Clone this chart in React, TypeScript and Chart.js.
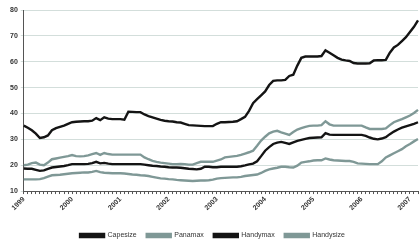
import React, { useEffect, useRef } from "react";
import { Chart, registerables } from "chart.js";

Chart.register(...registerables);

// Tick labels (one per January)
const yearLabels = ["1999", "2000", "2001", "2002", "2003", "2004", "2005", "2006", "2007"];

// Monthly categories Jan 1999 .. Mar 2007
const months: string[] = [];
for (let y = 1999; y <= 2007; y++) {
  for (let m = 1; m <= 12; m++) {
    if (y === 2007 && m > 3) break;
    months.push(`${y}-${String(m).padStart(2, "0")}`);
  }
}

const capesize = [
  35.3, 34.5, 33.5, 32.2, 30.5, 30.8, 31.5, 33.5, 34.3, 34.8, 35.3, 36.0,
  36.6, 36.8, 36.9, 37.0, 37.0, 37.2, 38.2, 37.4, 38.5, 38.0, 37.8, 37.8,
  37.8, 37.6, 40.7, 40.6, 40.5, 40.5, 39.6, 39.0, 38.5, 38.0, 37.5, 37.2,
  37.0, 36.9, 36.6, 36.5, 36.0, 35.5, 35.4, 35.3, 35.2, 35.1, 35.1, 35.1,
  36.0, 36.6, 36.6, 36.7, 36.8, 37.0, 37.8, 38.7, 41.0, 44.0, 45.5, 47.0,
  48.5, 51.0, 52.6, 52.8, 52.8, 53.0, 54.5, 55.0, 58.5, 61.5, 62.0, 62.0,
  62.0, 62.0, 62.2, 64.4, 63.5, 62.5, 61.5, 60.8, 60.5, 60.3, 59.5, 59.3,
  59.3, 59.3, 59.4, 60.5, 60.6, 60.6, 60.7, 63.5, 65.5, 66.5, 68.0, 69.5,
  71.5, 73.5, 76.0,
];

const panamax = [
  20.0, 20.2, 20.8, 21.0, 20.2, 20.0, 21.0, 22.3, 22.6, 22.9, 23.2, 23.5,
  23.9, 23.5, 23.4, 23.5, 23.8, 24.3, 24.7, 24.0, 24.7, 24.3, 24.1, 24.1,
  24.1, 24.1, 24.1, 24.1, 24.1, 24.1, 23.0, 22.3, 21.7, 21.3, 21.0, 20.8,
  20.6, 20.4, 20.4, 20.5, 20.4, 20.2, 20.2, 20.8, 21.3, 21.3, 21.3, 21.3,
  21.8, 22.2, 23.0, 23.2, 23.4, 23.6, 24.0, 24.5, 25.0, 25.6, 27.5, 29.5,
  31.0, 32.3, 33.0, 33.3, 32.7, 32.2, 31.7, 32.8, 33.8, 34.3, 34.8, 35.2,
  35.3, 35.3, 35.5, 37.0, 35.8, 35.3, 35.3, 35.3, 35.3, 35.3, 35.3, 35.3,
  35.3, 34.6, 34.0, 34.0, 34.0, 34.0, 34.2, 35.5, 36.6, 37.2, 37.8, 38.5,
  39.2, 40.2, 41.4,
];

const handymax = [
  18.7, 18.6, 18.6, 18.2, 17.8, 18.0, 18.6, 19.1, 19.3, 19.5, 19.7, 20.0,
  20.4, 20.4, 20.4, 20.4, 20.5, 20.8, 21.3, 20.7, 20.9, 20.6, 20.4, 20.4,
  20.4, 20.4, 20.4, 20.4, 20.4, 20.4, 20.2, 20.0, 19.8, 19.7, 19.5, 19.4,
  19.2, 19.1, 19.1, 19.0, 18.8, 18.6, 18.5, 18.4, 18.6, 19.4, 19.4, 19.2,
  19.2, 19.4, 19.4, 19.4, 19.4, 19.4, 19.6, 19.9, 20.3, 20.6, 21.5, 23.5,
  25.6, 27.0, 28.2, 28.7, 29.0, 28.6, 28.2, 28.8, 29.4, 29.8, 30.2, 30.5,
  30.6, 30.7, 30.8, 32.4, 31.8, 31.7, 31.7, 31.7, 31.7, 31.7, 31.7, 31.7,
  31.7, 31.3, 30.7, 30.2, 30.0, 30.3, 30.8, 32.0, 33.0, 33.8, 34.5, 35.0,
  35.5, 36.0, 36.6,
];

const handysize = [
  14.5, 14.5, 14.5, 14.5, 14.6, 15.0, 15.6, 16.1, 16.2, 16.3, 16.5, 16.7,
  16.9, 17.0, 17.1, 17.2, 17.2, 17.4, 17.8, 17.3, 17.1, 17.0, 16.9, 16.9,
  16.9, 16.8, 16.6, 16.4, 16.3, 16.1, 16.0, 15.8, 15.5, 15.2, 14.9, 14.8,
  14.6, 14.5, 14.3, 14.2, 14.1, 14.0, 13.9, 14.0, 14.1, 14.1, 14.2, 14.4,
  14.8, 15.0, 15.1, 15.2, 15.3, 15.3, 15.5, 15.8, 16.0, 16.2, 16.4, 17.0,
  17.8, 18.4, 18.7, 19.0, 19.4, 19.4, 19.2, 19.1, 19.8, 21.0, 21.3, 21.5,
  21.8, 21.9, 21.9, 22.6, 22.2, 21.9, 21.8, 21.7, 21.6, 21.6, 21.3, 20.7,
  20.6, 20.5, 20.4, 20.4, 20.4, 21.5, 23.0, 23.8, 24.6, 25.4, 26.2, 27.3,
  28.2, 29.2, 30.1,
];

const seriesNames = ["Capesize", "Panamax", "Handymax", "Handysize"];

const DARK = "#141414";
const GREY = "#7f9896";

export default function App() {
  const ref = useRef<HTMLCanvasElement | null>(null);

  useEffect(() => {
    document.body.style.margin = "0";
    const canvas = ref.current;
    if (!canvas) return;
    const mk = (label: string, data: number[], color: string) => ({
      label,
      data,
      borderColor: color,
      backgroundColor: color,
      borderWidth: 2.4,
      pointRadius: 0,
      tension: 0,
      fill: false,
    });
    const chart = new Chart(canvas, {
      type: "line",
      data: {
        labels: months,
        datasets: [
          mk(seriesNames[0], capesize, DARK),
          mk(seriesNames[1], panamax, GREY),
          mk(seriesNames[2], handymax, DARK),
          mk(seriesNames[3], handysize, GREY),
        ],
      },
      options: {
        responsive: false,
        animation: false,
        devicePixelRatio: 1,
        layout: { padding: { left: 7, right: 2, top: 10, bottom: 2 } },
        plugins: {
          legend: {
            position: "bottom",
            labels: {
              boxWidth: 24,
              boxHeight: 3,
              padding: 10,
              color: "#333",
              font: { family: "Liberation Sans", size: 7 },
            },
          },
          tooltip: { enabled: false },
        },
        scales: {
          x: {
            type: "category",
            offset: false,
            grid: { drawOnChartArea: false, drawTicks: true, tickLength: 3, color: "#555" },
            border: { display: true, color: "#555", width: 1 },
            afterFit: (scale: any) => {
              scale.height += 9;
              scale.paddingRight = 0;
            },
            ticks: {
              autoSkip: false,
              maxRotation: 45,
              minRotation: 45,
              padding: 1,
              color: "#333",
              font: { family: "Liberation Sans", size: 7, weight: "bold" },
              callback: (_v: any, i: number) => (i % 12 === 0 ? yearLabels[i / 12] : ""),
            },
          },
          y: {
            min: 10,
            max: 80,
            grid: { color: "#d3dedb", lineWidth: 1, tickLength: 3 },
            border: { display: true, color: "#555", width: 1 },
            ticks: {
              stepSize: 10,
              padding: 3,
              color: "#333",
              font: { family: "Liberation Sans", size: 7, weight: "bold" },
            },
          },
        },
      },
    });
    return () => chart.destroy();
  }, []);

  return (
    <div style={{ width: 420, height: 251, position: "relative", background: "#fff" }}>
      <canvas ref={ref} width={420} height={251} />
    </div>
  );
}
